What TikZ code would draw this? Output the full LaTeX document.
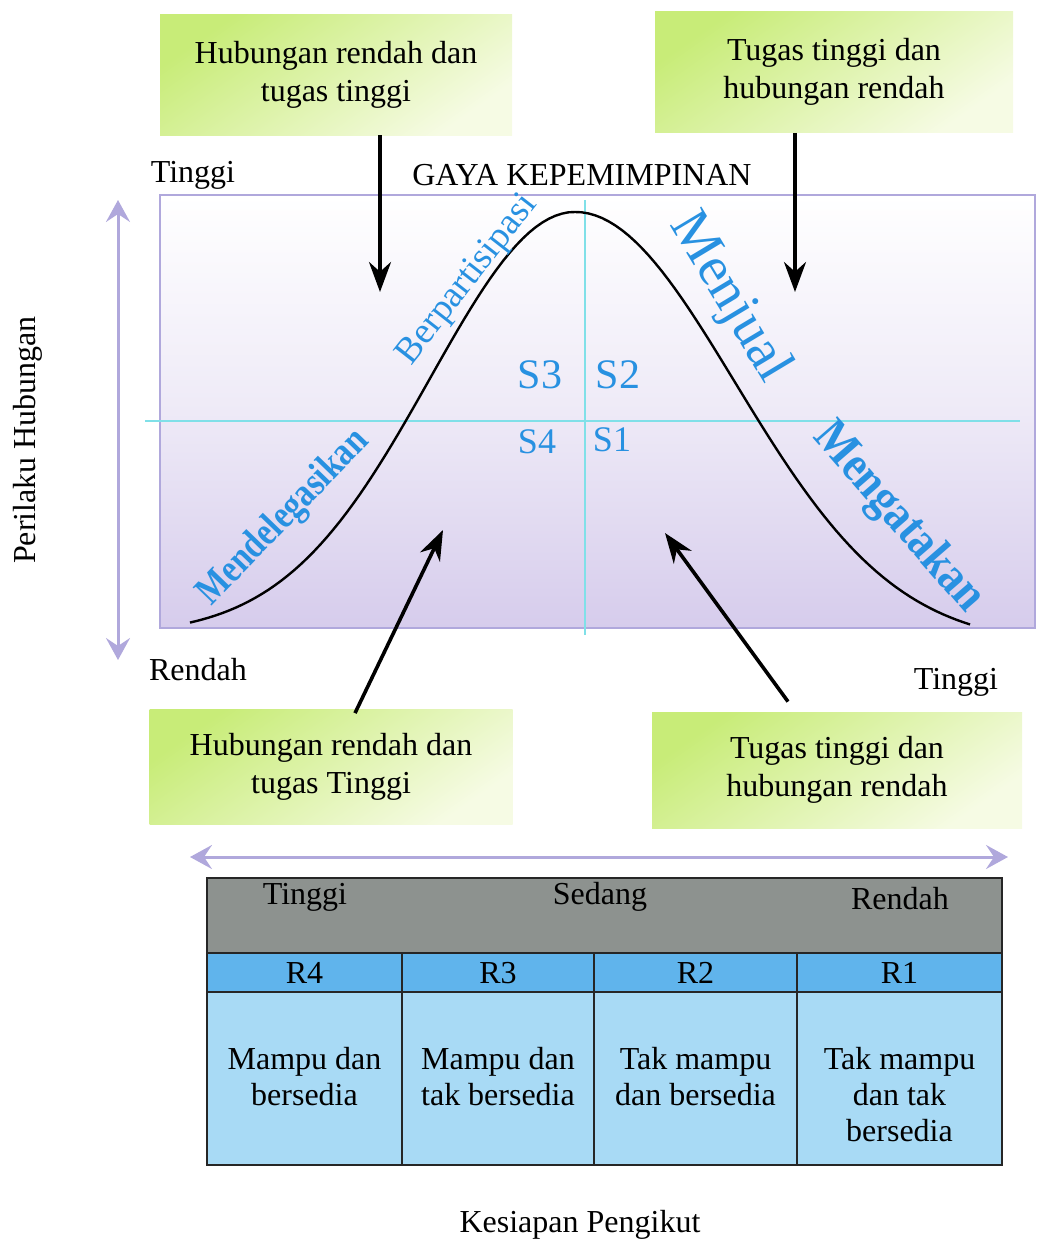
\documentclass[tikz,border=0pt]{standalone}
\usepackage{fontspec}
\setmainfont{Liberation Serif}
\usetikzlibrary{arrows.meta,positioning}

\definecolor{boxgreen}{RGB}{200,236,120}
\definecolor{boxpale}{RGB}{246,251,228}
\definecolor{lavline}{RGB}{176,168,220}
\definecolor{lavfill}{RGB}{214,204,236}
\definecolor{lavmid}{RGB}{238,234,247}
\definecolor{cyanline}{RGB}{128,224,232}
\definecolor{styleblue}{RGB}{40,145,225}
\definecolor{headgray}{RGB}{141,146,143}
\definecolor{rowblue}{RGB}{96,180,236}
\definecolor{cellblue}{RGB}{168,218,245}

\tikzset{
  greenbox/.style={draw=none, shading=axis, top color=boxgreen, bottom color=boxpale,
    shading angle=35, align=center, inner sep=0pt},
  blackarrow/.style={line width=1.8pt, -{Stealth[length=15pt,width=11pt]}},
  lavarrow/.style={draw=lavline, line width=1.5pt,
    {Stealth[length=11pt,width=12pt,inset=4pt]}-{Stealth[length=11pt,width=12pt,inset=4pt]}},
  stylelabel/.style={text=styleblue, inner sep=0pt},
  cell/.style={draw=black!85, line width=0.8pt}
}

\begin{document}
\begin{tikzpicture}[x=0.5pt,y=-0.5pt, font=\fontsize{16}{19}\selectfont]
  \useasboundingbox (0,0) rectangle (1037,1252);

  % style area
  \draw[lavline, line width=0.8pt, top color=white, bottom color=lavfill, middle color=lavmid]
    (160,195) rectangle (1035,628);
  \draw[cyanline, line width=0.8pt] (145,421) -- (1020,421);
  \draw[cyanline, line width=0.8pt] (585,200) -- (585,635);

  % bell curve
  \draw[line width=1.2pt]
    plot[domain=190:575, samples=60] (\x, {635-423*exp(-0.5*((\x-575)/145)^2)})
    -- plot[domain=575:970, samples=60] (\x, {645-433*exp(-0.5*((\x-575)/160)^2)});

  \node[stylelabel, font=\fontsize{18.5}{20}\selectfont, rotate=52] (partisipasi) at (468,280) {Berpartisipasi};
  \node[stylelabel, font=\fontsize{28}{30}\selectfont, rotate=-59] (menjual) at (729,298) {Menjual};
  \node[stylelabel, font=\fontsize{20}{22}\selectfont\bfseries, rotate=46] (delegasi) at (284,518)
    {\scalebox{0.82}[1]{Mendelegasikan}};
  \node[stylelabel, font=\fontsize{25}{27}\selectfont\bfseries, rotate=-49] (mengatakan) at (898,518)
    {\scalebox{0.87}[1]{Mengatakan}};

  \node[stylelabel, font=\fontsize{21}{23}\selectfont] (s3) at (540,375) {S3};
  \node[stylelabel, font=\fontsize{21}{23}\selectfont] (s2) at (618,375) {S2};
  \node[stylelabel, font=\fontsize{18}{20}\selectfont] (s4) at (537,442) {S4};
  \node[stylelabel, font=\fontsize{18}{20}\selectfont] (s1) at (612,440) {S1};

  % axis labels
  \node (tinggiY) at (193,175) {Tinggi};
  \node (gaya) at (582,175) {GAYA KEPEMIMPINAN};
  \node (rendahY) at (198,670) {Rendah};
  \node (tinggiX) at (956,682) {Tinggi};
  \node[rotate=90] (perilaku) at (28,440) {Perilaku Hubungan};
  \coordinate (yhi) at (118,200);
  \coordinate (ylo) at (118,660);
  \draw[lavarrow] (yhi) -- (ylo);

  % green boxes
  \node[greenbox, minimum width=176pt, minimum height=60pt] (boxTL) at (336,75)
    {Hubungan rendah dan\\tugas tinggi};
  \node[greenbox, minimum width=179pt, minimum height=60.5pt] (boxTR) at (834,72)
    {Tugas tinggi dan\\hubungan rendah};
  \node[greenbox, minimum width=181.5pt, minimum height=57.5pt] (boxBL) at (331,767)
    {Hubungan rendah dan\\tugas Tinggi};
  \node[greenbox, minimum width=185pt, minimum height=58pt] (boxBR) at (837,770)
    {Tugas tinggi dan\\hubungan rendah};

  \coordinate (tipTL) at (380,292);
  \coordinate (tipTR) at (795,292);
  \coordinate (tipBL) at (443,530);
  \coordinate (tipBR) at (665,533);
  \draw[blackarrow] (boxTL.south -| tipTL) -- (tipTL);
  \draw[blackarrow] (boxTR.south -| tipTR) -- (tipTR);
  \draw[blackarrow] ([xshift=12pt,yshift=-2pt]boxBL.north) -- (tipBL);
  \draw[blackarrow] ([xshift=-24.5pt,yshift=5pt]boxBR.north) -- (tipBR);

  % readiness table
  \coordinate (xlo) at (190,857);
  \coordinate (xhi) at (1008,857);
  \draw[lavarrow] (xlo) -- (xhi);

  \draw[cell, fill=headgray] (207,878) rectangle (1002,953);
  \node (hTinggi) at (305,897) {Tinggi};
  \node (hSedang) at (600,897) {Sedang};
  \node (hRendah) at (900,899) {Rendah};

  \foreach \i/\xa/\xb/\dd in {4/207/402/{Mampu dan\\bersedia},
                              3/402/594/{Mampu dan\\tak bersedia},
                              2/594/797/{Tak mampu\\dan bersedia},
                              1/797/1002/{Tak mampu\\dan tak\\bersedia}} {
    \draw[cell, fill=rowblue] (\xa,953) rectangle (\xb,992);
    \draw[cell, fill=cellblue] (\xa,992) rectangle (\xb,1165);
    \node (r\i) at ({(\xa+\xb)/2},973) {R\i};
    \node[anchor=north, align=center, font=\fontsize{16}{18}\selectfont] (d\i) at ({(\xa+\xb)/2},1040) {\dd};
  }

  \node (kesiapan) at (580,1225) {Kesiapan Pengikut};
\end{tikzpicture}
\end{document}
